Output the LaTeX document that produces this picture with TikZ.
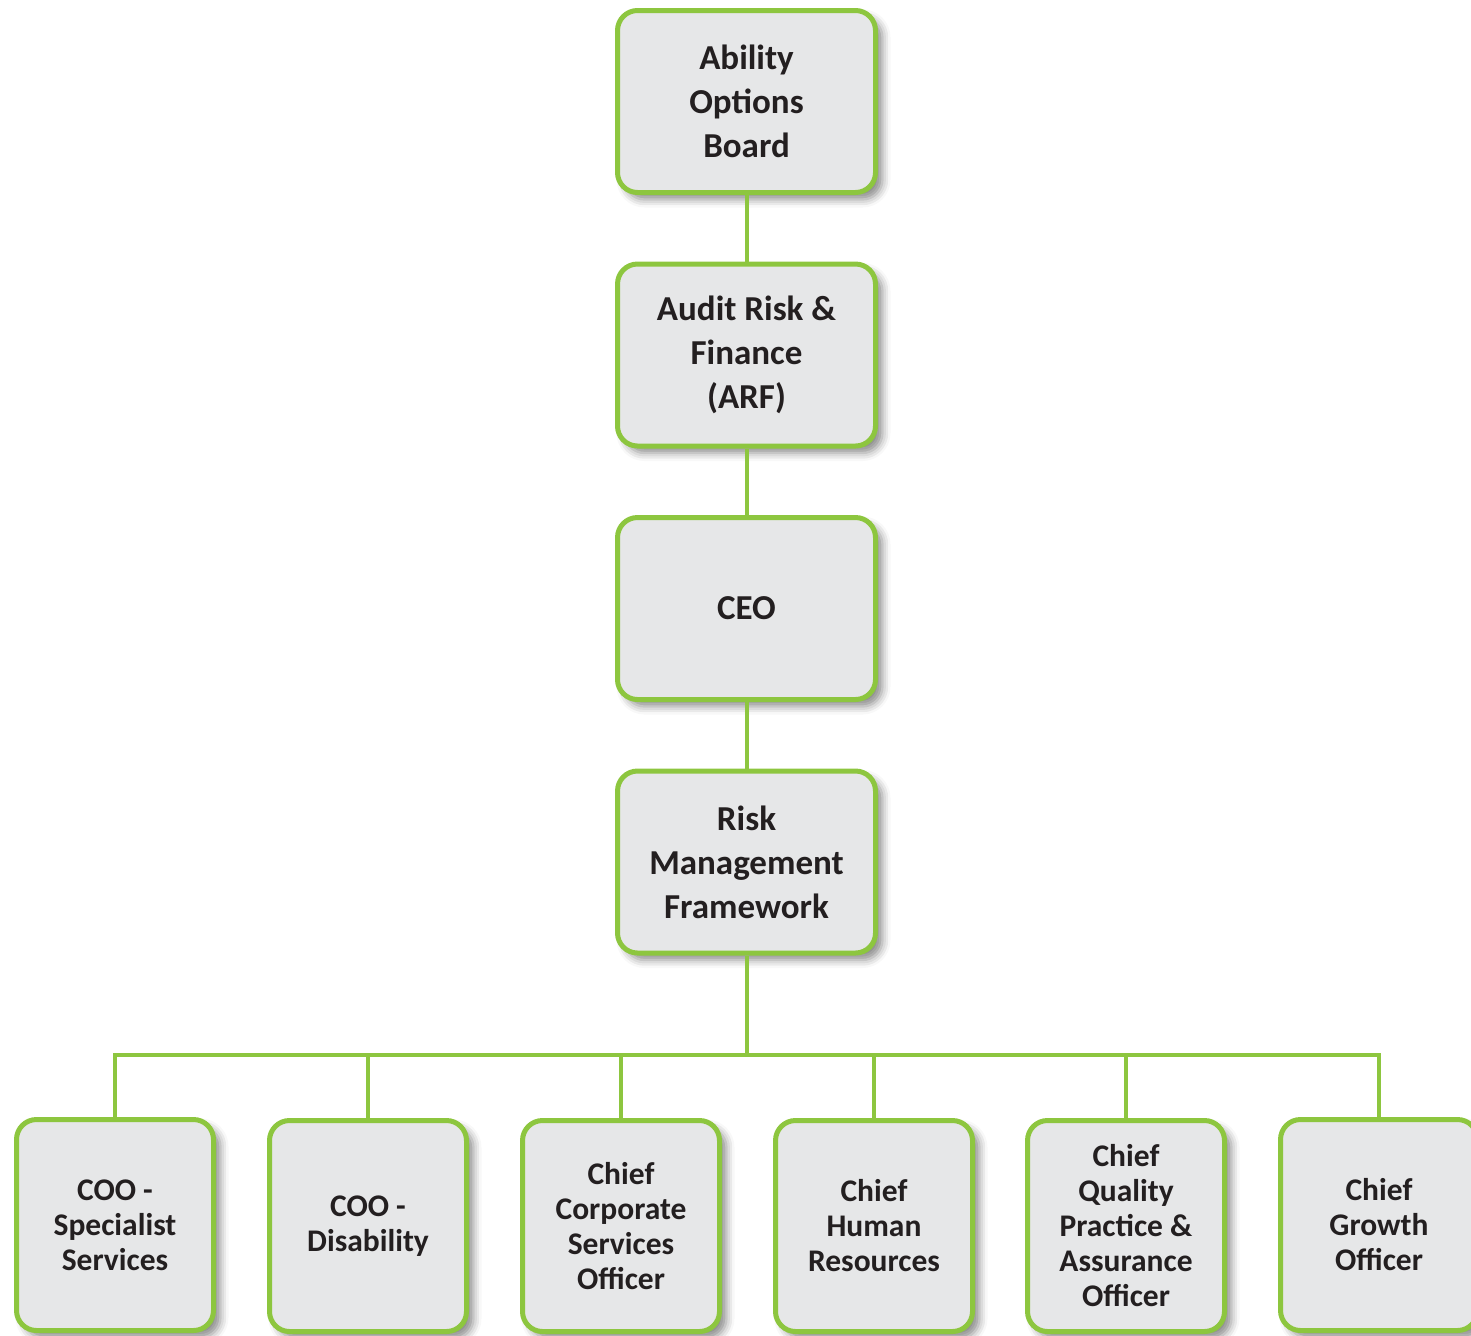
\documentclass[tikz,border=0pt]{standalone}
\usepackage{fontspec}
\setmainfont{Carlito}
\usepackage{tikz}
\usetikzlibrary{positioning, shadows.blur}
\definecolor{leaf}{HTML}{8DC63F}
\definecolor{boxgray}{HTML}{E6E7E8}
\definecolor{ink}{HTML}{231F20}
\tikzstyle{level} = [rectangle, rounded corners=10pt, minimum width=129pt, minimum height=91pt, text centered, align=center, draw=leaf, line width=2.5pt, fill=boxgray, text=ink, font=\fontsize{17.5}{22}\selectfont\bfseries, blur shadow={shadow xshift=3.5pt, shadow yshift=-3.5pt, shadow blur radius=4pt, shadow opacity=45}]
\tikzstyle{role} = [level, minimum width=98.5pt, minimum height=105.5pt, font=\fontsize{15.75}{17.5}\selectfont\bfseries]
\tikzstyle{link} = [draw=leaf, line width=2pt]

\begin{document}
\begin{tikzpicture}[node distance=126.75pt]
        \useasboundingbox (0pt,0pt) rectangle (735.5pt,-667.5pt);
        \node (board) [level] at (373.25pt,-50.75pt) {Ability\\Options\\Board};
        \node (arf) [level, below of=board] {Audit Risk \&\\Finance\\(ARF)};
        \node (ceo) [level, below of=arf] {CEO};
        \node (rmf) [level, below of=ceo] {Risk\\Management\\Framework};

        \coordinate (bus) at (373.25pt,-527.5pt);

        \node (coo-ss) [role] at (57.5pt,-612.5pt) {COO -\\Specialist\\Services};
        \node (coo-dis) [role] at (184pt,-613pt) {COO -\\Disability};
        \node (cso) [role] at (310.5pt,-613pt) {Chief\\Corporate\\Services\\Officer};
        \node (chr) [role] at (437pt,-613pt) {Chief\\Human\\Resources};
        \node (cqo) [role] at (563pt,-613pt) {Chief\\Quality\\Practice \&\\Assurance\\Officer};
        \node (cgo) [role] at (689.5pt,-612.5pt) {Chief\\Growth\\Officer};

        \draw [link] (board) -- (arf);
        \draw [link] (arf) -- (ceo);
        \draw [link] (ceo) -- (rmf);
        \draw [link] (rmf) -- (bus);
        \draw [link] (bus) -| (coo-ss);
        \draw [link] (bus) -| (coo-dis);
        \draw [link] (bus) -| (cso);
        \draw [link] (bus) -| (chr);
        \draw [link] (bus) -| (cqo);
        \draw [link] (bus) -| (cgo);
    \end{tikzpicture}
\end{document}
